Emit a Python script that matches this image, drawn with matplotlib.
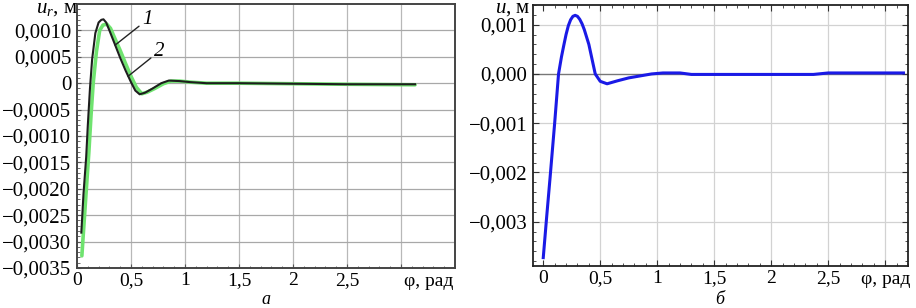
import matplotlib
matplotlib.use("Agg")
import matplotlib.pyplot as plt
from matplotlib.ticker import MultipleLocator

plt.rcParams['font.family'] = ['Liberation Serif', 'DejaVu Serif']
plt.rcParams['mathtext.fontset'] = 'custom'
plt.rcParams['mathtext.rm'] = 'Liberation Serif'
plt.rcParams['mathtext.it'] = 'Liberation Serif:italic'

# ---- data: panel a ----
phi_1 = [0.04, 0.06, 0.085, 0.1, 0.12, 0.14, 0.17, 0.2, 0.225, 0.245, 0.27, 0.3, 0.35, 0.4,
         0.45, 0.5, 0.54, 0.58, 0.63, 0.7, 0.78, 0.85, 0.95, 1.05, 1.2, 1.5, 2.0, 2.5, 3.13]
u_1 = [-0.00283, -0.0021, -0.0014, -0.0008, -0.0001, 0.00045, 0.00095, 0.00115, 0.0012, 0.00121,
       0.00115, 0.001, 0.00074, 0.00048, 0.00024, 0.00002, -0.00014, -0.00021, -0.00018, -0.0001,
       0.0, 0.00005, 0.00004, 0.00002, 0.0, 0.0, -0.00001, -0.00002, -0.00002]

phi_2 = [0.045, 0.07, 0.09, 0.11, 0.13, 0.15, 0.18, 0.21, 0.24, 0.275, 0.31, 0.35, 0.4, 0.45,
         0.5, 0.55, 0.6, 0.65, 0.72, 0.8, 0.87, 0.95, 1.05, 1.2, 1.5, 2.0, 2.5, 3.13]
u_2 = [-0.00327, -0.0025, -0.0019, -0.0013, -0.0006, 0.0, 0.0006, 0.001, 0.0011, 0.00112,
       0.00104, 0.00085, 0.00062, 0.00037, 0.00013, -0.00008, -0.0002, -0.00017, -0.0001,
       -0.00001, 0.00004, 0.00004, 0.00002, 0.0, 0.0, -0.00001, -0.00002, -0.00003]

yticks_a = [0.001, 0.0005, 0.0, -0.0005, -0.001, -0.0015, -0.002, -0.0025, -0.003, -0.0035]
yticklabels_a = ['0,0010', '0,0005', '0', '\u22120,0005', '\u22120,0010', '\u22120,0015',
                 '\u22120,0020', '\u22120,0025', '\u22120,0030', '\u22120,0035']
xticks = [0, 0.5, 1, 1.5, 2, 2.5, 3]
xticklabels = ['0', '0,5', '1', '1,5', '2', '2,5', '']

# ---- data: panel b ----
phi_b = [0.0, 0.03, 0.06, 0.1, 0.134, 0.16, 0.18, 0.2, 0.22, 0.24, 0.26, 0.28, 0.3, 0.32,
         0.34, 0.36, 0.4, 0.456, 0.5, 0.56, 0.65, 0.75, 0.85, 0.95, 1.05, 1.2, 1.3, 1.6,
         2.0, 2.37, 2.5, 2.8, 3.16]
u_b = [-0.00373, -0.0029, -0.0021, -0.001, 0.0, 0.00035, 0.00058, 0.0008, 0.00098, 0.0011,
       0.00117, 0.00119, 0.00117, 0.00111, 0.00102, 0.0009, 0.0006, 0.0, -0.00015, -0.0002,
       -0.00014, -0.00008, -0.00004, 0.0, 0.00002, 0.00002, -0.00001, -0.00001, -0.00001,
       -0.00001, 0.00002, 0.00002, 0.00002]
yticks_b = [0.001, 0.0, -0.001, -0.002, -0.003]
yticklabels_b = ['0,001', '0,000', '\u22120,001', '\u22120,002', '\u22120,003']

W, H = 916, 308
fig = plt.figure(figsize=(W / 100, H / 100), dpi=100)

def ax_rect(l, t, r, b):
    return [l / W, 1 - b / H, (r - l) / W, (b - t) / H]

FS = 15
FSX = 14

# ---------------- panel a ----------------
ax = fig.add_axes(ax_rect(77, 4, 455, 268))
ax.set_xlim(0, 3.5)
ax.set_ylim(-0.0035, 0.0015)
ax.set_xticks(xticks)
ax.set_xticklabels(xticklabels, fontsize=FSX)
ax.set_yticks(yticks_a)
ax.set_yticklabels(yticklabels_a, fontsize=FS)
ax.xaxis.set_minor_locator(MultipleLocator(0.1))
ax.yaxis.set_minor_locator(MultipleLocator(0.0001))
ax.tick_params(which='both', direction='in', color='#555555')
ax.tick_params(which='major', length=3, width=0.8)
ax.tick_params(axis='y', which='major', pad=4)
ax.tick_params(axis='x', which='major', pad=3)
ax.tick_params(which='minor', length=1.8, width=0.6)
for x in [0.5, 1, 1.5, 2, 2.5, 3]:
    ax.axvline(x, color='#b8b8b8', lw=0.9, zorder=0)
for y in [0.001, 0.0005, 0.0, -0.0005, -0.001, -0.0015, -0.002, -0.0025, -0.003]:
    ax.axhline(y, color='#a8a8a8', lw=0.9, zorder=0)
for s in ax.spines.values():
    s.set_color('#444444')
    s.set_linewidth(1.4)
ax.plot(phi_2, u_2, color='#6fe36f', lw=2.6, solid_capstyle='round', zorder=2)
ax.plot(phi_1, u_1, color='#1e1e1e', lw=1.5, zorder=3)
ax.annotate('1', xy=(0.352, 0.00072), xytext=(0.6, 0.00102),
            fontsize=FS, style='italic', ha='left', va='bottom',
            arrowprops=dict(arrowstyle='-', color='#222222', lw=1.0, shrinkA=0, shrinkB=0))
ax.annotate('2', xy=(0.472, 0.00013), xytext=(0.71, 0.00042),
            fontsize=FS, style='italic', ha='left', va='bottom',
            arrowprops=dict(arrowstyle='-', color='#222222', lw=1.0, shrinkA=0, shrinkB=0))
ax.text(3.26, -0.0035 - 0.0001, '\u03c6, рад', fontsize=FSX, ha='center', va='top', clip_on=False)
fig.text(57 / W, 1 - 9 / H, r'$u_r$, м', fontsize=FS, ha='center', va='center')
fig.text(266 / W, 1 - 300 / H, 'а', fontsize=13, style='italic', ha='center', va='center')

# ---------------- panel b ----------------
bx = fig.add_axes(ax_rect(533, 5, 908, 266))
bx.set_xlim(-0.09, 3.2)
bx.set_ylim(-0.0039, 0.0014)
bx.set_xticks(xticks)
bx.set_xticklabels(xticklabels, fontsize=FSX)
bx.set_yticks(yticks_b)
bx.set_yticklabels(yticklabels_b, fontsize=FS)
bx.xaxis.set_minor_locator(MultipleLocator(0.1))
bx.yaxis.set_minor_locator(MultipleLocator(0.0002))
bx.tick_params(which='both', direction='in', color='#333333', top=True, right=True)
bx.tick_params(which='major', length=4, width=0.8)
bx.tick_params(axis='y', which='major', pad=4)
bx.tick_params(axis='x', which='major', pad=3)
bx.tick_params(which='minor', length=2, width=0.6)
for x in [0.5, 1, 1.5, 2, 2.5, 3]:
    bx.axvline(x, color='#d2d2d2', lw=0.9, zorder=0)
for y in [0.001, -0.001, -0.002, -0.003]:
    bx.axhline(y, color='#d2d2d2', lw=0.9, zorder=0)
bx.axhline(0, color='#777777', lw=1.0, zorder=1)
for s in bx.spines.values():
    s.set_color('#222222')
    s.set_linewidth(1.3)
bx.plot(phi_b, u_b, color='#1a1ae6', lw=2.2, zorder=3)
bx.text(3.0, -0.0039 - 0.0001, '\u03c6, рад', fontsize=FSX, ha='center', va='top', clip_on=False)
fig.text(513 / W, 1 - 9 / H, r'$u$, м', fontsize=FS, ha='center', va='center')
fig.text(720 / W, 1 - 300 / H, 'б', fontsize=13, style='italic', ha='center', va='center')

fig.savefig('out.png', dpi=100)
